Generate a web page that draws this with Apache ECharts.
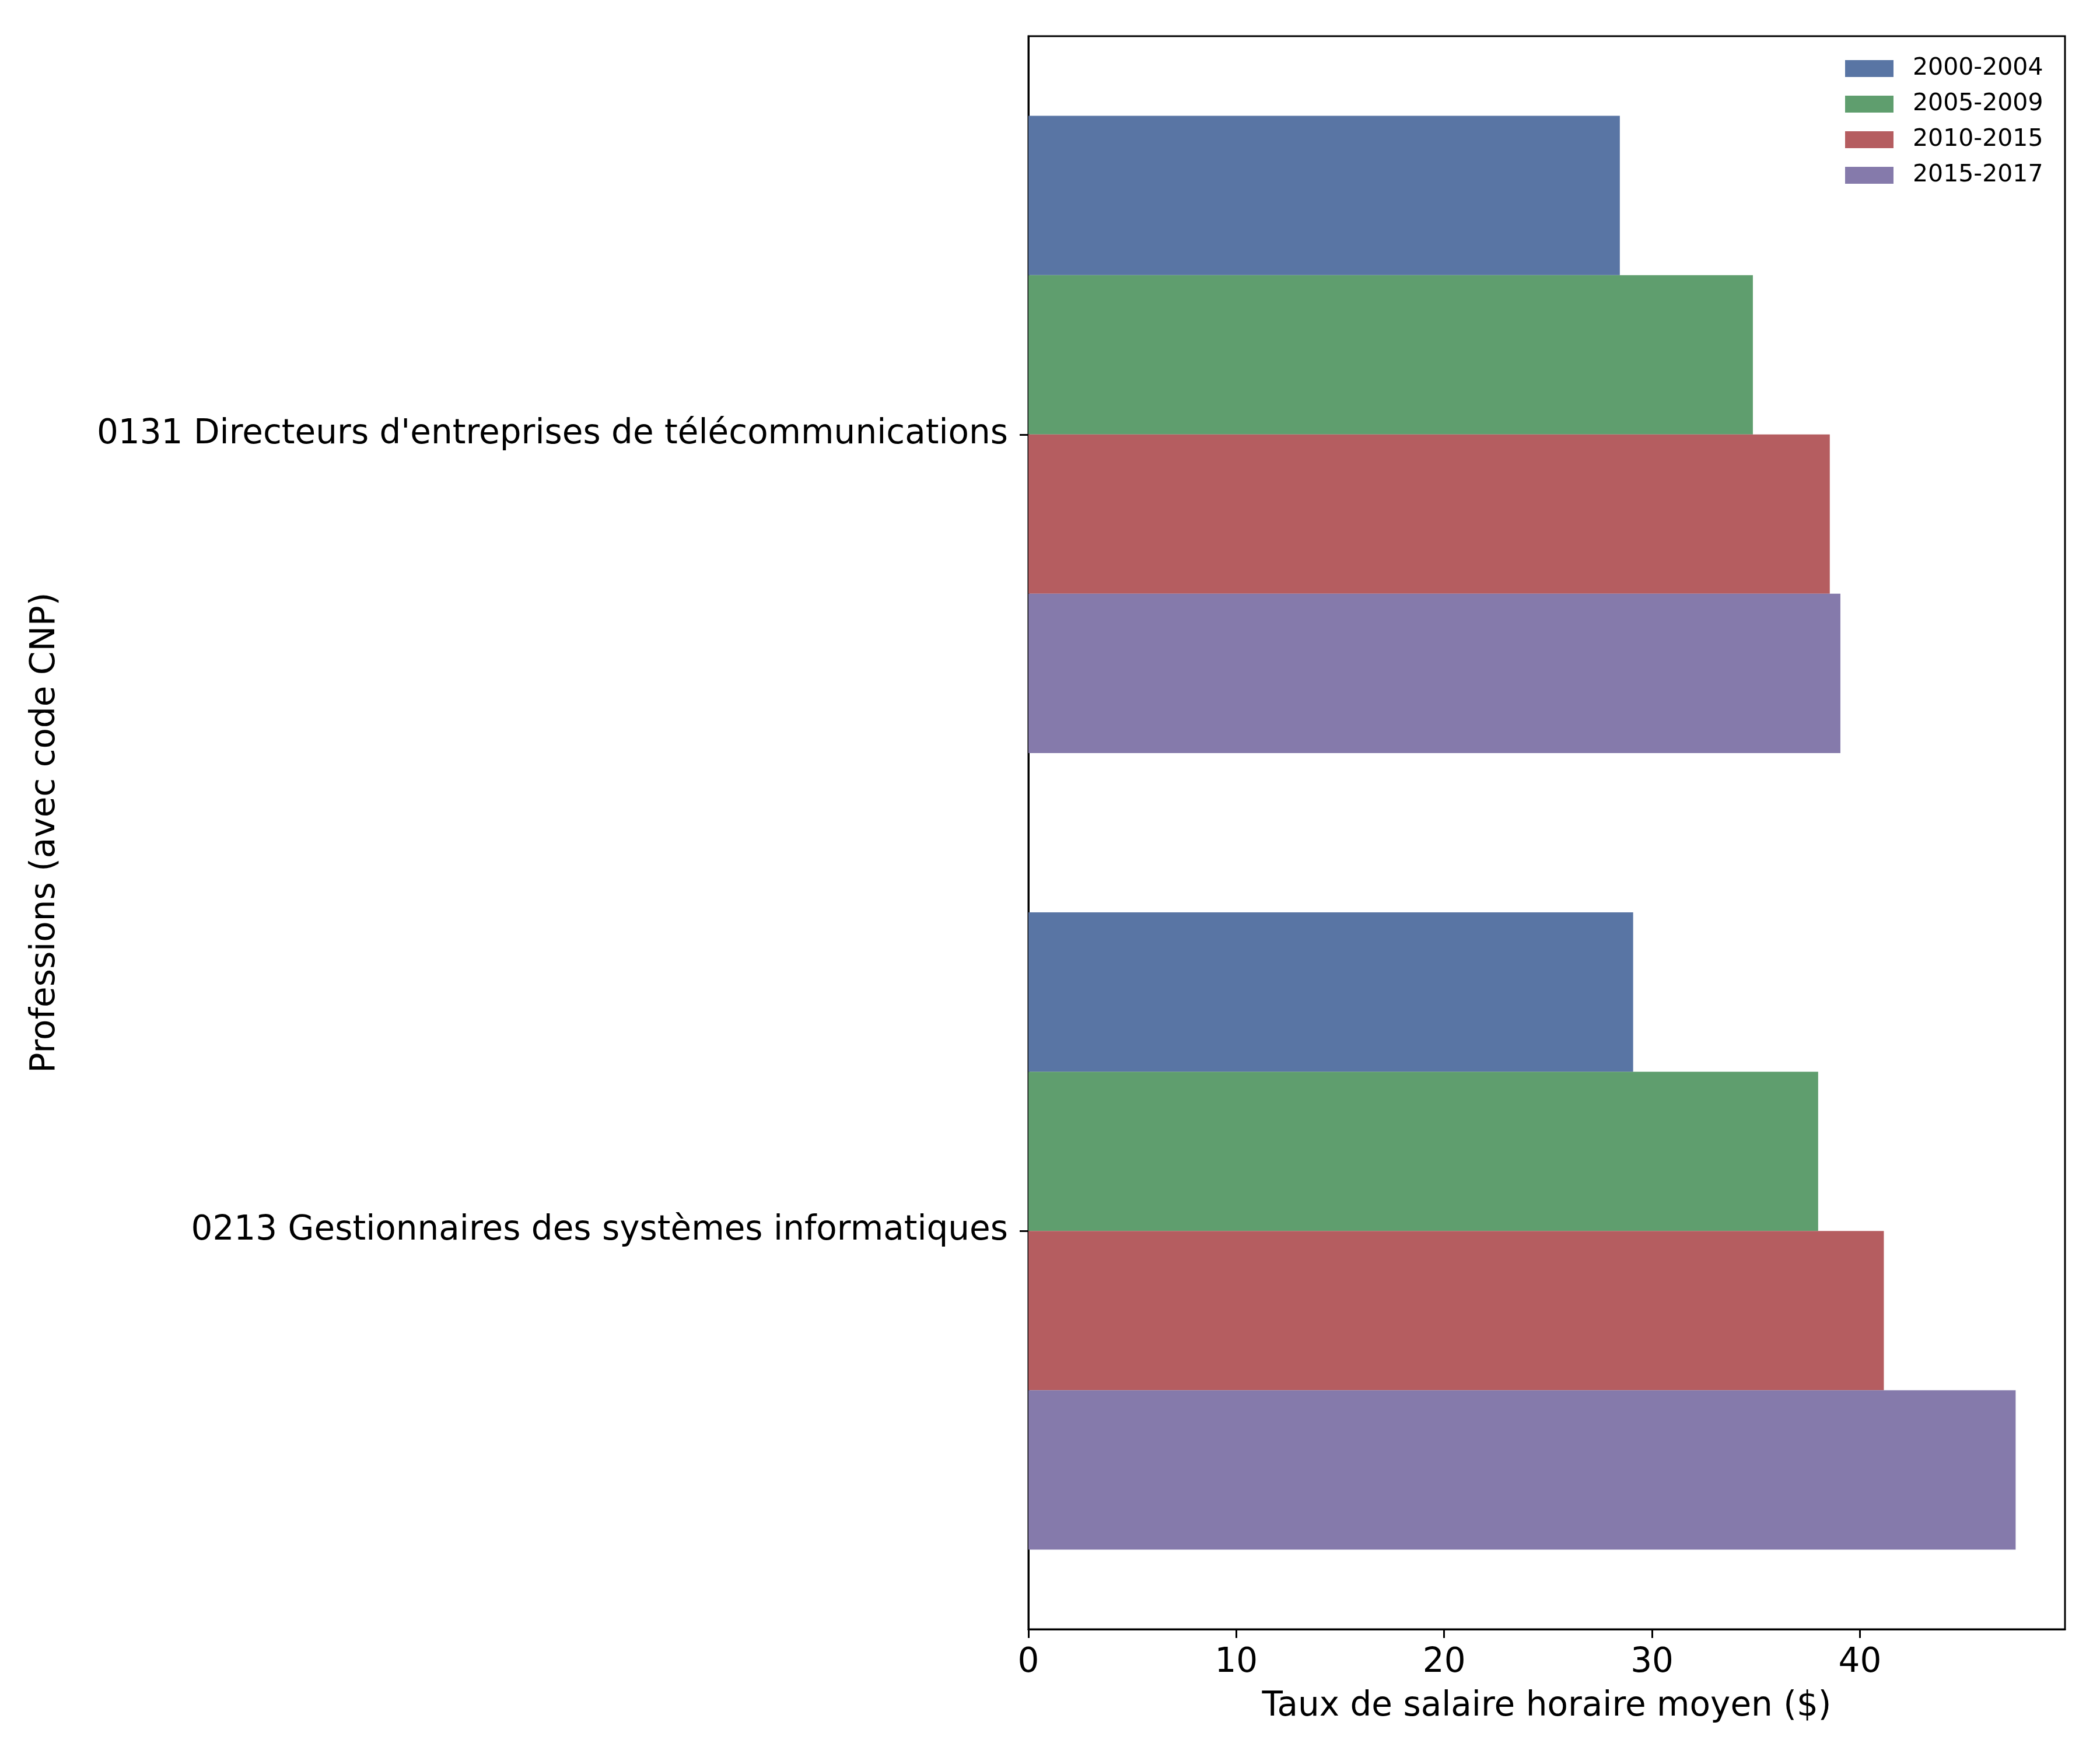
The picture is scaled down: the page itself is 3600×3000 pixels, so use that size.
<!DOCTYPE html>
<html>
<head>
<meta charset="utf-8">
<script src="https://cdn.jsdelivr.net/npm/echarts@6/dist/echarts.min.js"></script>
<style>html,body{margin:0;padding:0;background:#fff}#c{width:3600px;height:3000px}</style>
</head>
<body>
<div id="c"></div>
<script>
const categories = ["0131 Directeurs d'entreprises de télécommunications", "0213 Gestionnaires des systèmes informatiques"];
const seriesNames = ["2000-2004", "2005-2009", "2010-2015", "2015-2017"];
const v2000_2004 = [28.45, 29.09];
const v2005_2009 = [34.85, 37.99];
const v2010_2015 = [38.55, 41.15];
const v2015_2017 = [39.06, 47.49];
const colors = ['#5975a4', '#5f9e6e', '#b55d60', '#857aab'];
const xTicks = [0, 10, 20, 30, 40];

const allValues = [v2000_2004, v2005_2009, v2010_2015, v2015_2017];
const FONT = 'DejaVu Sans';
const chart = echarts.init(document.getElementById('c'), null, {renderer: 'canvas', devicePixelRatio: 1});
const maxVal = Math.max(...allValues.flat()) * 1.05;

chart.setOption({
  backgroundColor: '#fff',
  animation: false,
  color: colors,
  grid: {left: 1763, right: 60, top: 62, bottom: 207, show: true, borderColor: '#000', borderWidth: 3, containLabel: false},
  legend: {
    orient: 'vertical', left: 3158, top: 92,
    itemWidth: 83, itemHeight: 29, itemGap: 20,
    icon: 'rect',
    textStyle: {fontFamily: FONT, fontSize: 41, color: '#000', padding: [0, 0, 0, 28]},
    data: seriesNames
  },
  xAxis: {
    type: 'value', min: 0, max: maxVal, interval: 10,
    name: 'Taux de salaire horaire moyen ($)', nameLocation: 'middle', nameGap: 104,
    nameTextStyle: {fontFamily: FONT, fontSize: 58, color: '#000', verticalAlign: 'top'},
    axisLine: {show: true, lineStyle: {color: '#000', width: 3}},
    axisTick: {show: true, length: 15, lineStyle: {color: '#000', width: 3}},
    axisLabel: {fontFamily: FONT, fontSize: 58, color: '#000', margin: 29, showMaxLabel: false,
      formatter: v => xTicks.includes(v) ? String(v) : ''},
    splitLine: {show: false}
  },
  yAxis: {
    type: 'category', data: categories, inverse: true,
    name: 'Professions (avec code CNP)', nameLocation: 'middle', nameGap: 1656, nameRotate: 90,
    nameTextStyle: {fontFamily: FONT, fontSize: 58, color: '#000'},
    axisLine: {show: true, lineStyle: {color: '#000', width: 3}},
    axisTick: {show: true, length: 15, alignWithLabel: true, lineStyle: {color: '#000', width: 3}},
    axisLabel: {fontFamily: FONT, fontSize: 58, color: '#000', margin: 35},
    splitLine: {show: false}
  },
  series: seriesNames.map((n, i) => ({
    name: n, type: 'bar', data: allValues[i],
    barGap: '0%', barCategoryGap: '20%',
    itemStyle: {color: colors[i]}
  }))
});
</script>
</body>
</html>
